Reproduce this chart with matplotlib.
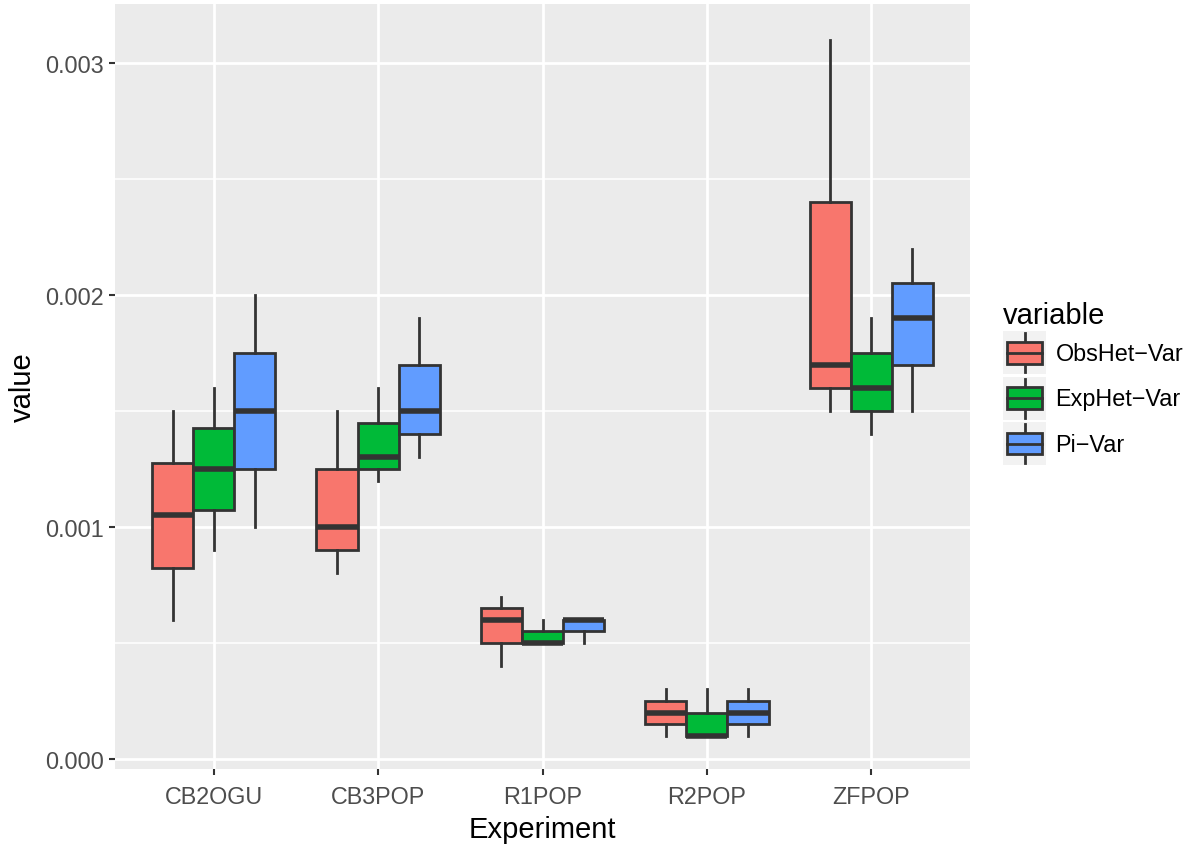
import matplotlib
matplotlib.use('Agg')
import matplotlib.pyplot as plt
from matplotlib.patches import Patch, Rectangle
from matplotlib.lines import Line2D

plt.rcParams['font.family'] = ['Liberation Sans', 'DejaVu Sans']

experiments = ['CB2OGU', 'CB3POP', 'R1POP', 'R2POP', 'ZFPOP']
variables = ['ObsHet\u2212Var', 'ExpHet\u2212Var', 'Pi\u2212Var']
colors = ['#F8766D', '#00BA38', '#619CFF']

# five-number summaries per experiment: (low whisker, q1, median, q3, high whisker)
obs_het = [(0.00060, 0.000825, 0.00105, 0.001275, 0.00150),
           (0.00080, 0.00090, 0.00100, 0.00125, 0.00150),
           (0.00040, 0.00050, 0.00060, 0.00065, 0.00070),
           (0.00010, 0.00015, 0.00020, 0.00025, 0.00030),
           (0.00150, 0.00160, 0.00170, 0.00240, 0.00310)]
exp_het = [(0.00090, 0.001075, 0.00125, 0.001425, 0.00160),
           (0.00120, 0.00125, 0.00130, 0.00145, 0.00160),
           (0.00050, 0.00050, 0.00050, 0.00055, 0.00060),
           (0.00010, 0.00010, 0.00010, 0.00020, 0.00030),
           (0.00140, 0.00150, 0.00160, 0.00175, 0.00190)]
pi_var = [(0.00100, 0.00125, 0.00150, 0.00175, 0.00200),
          (0.00130, 0.00140, 0.00150, 0.00170, 0.00190),
          (0.00050, 0.00055, 0.00060, 0.00060, 0.00060),
          (0.00010, 0.00015, 0.00020, 0.00025, 0.00030),
          (0.00150, 0.00170, 0.00190, 0.00205, 0.00220)]
series = [obs_het, exp_het, pi_var]

yticks = [0.000, 0.001, 0.002, 0.003]
yminor = [0.0005, 0.0015, 0.0025]

LINE = '#333333'
BASE = 21


class BoxKey:
    # legend key drawn like a small ggplot boxplot glyph
    def legend_artist(self, legend, orig_handle, fontsize, handlebox):
        x0, y0 = -handlebox.xdescent, -handlebox.ydescent
        w, h = handlebox.width, handlebox.height
        handlebox.add_artist(Rectangle((x0, y0), w, h, facecolor='#F2F2F2', edgecolor='none'))
        cx = x0 + w / 2
        handlebox.add_artist(Line2D([cx, cx], [y0 + 0.05 * h, y0 + 0.95 * h], color=LINE, lw=2.0))
        box = Rectangle((x0 + 0.1 * w, y0 + 0.25 * h), 0.8 * w, 0.5 * h,
                        facecolor=orig_handle.get_facecolor(), edgecolor=LINE, lw=2.0)
        handlebox.add_artist(box)
        handlebox.add_artist(Line2D([x0 + 0.1 * w, x0 + 0.9 * w], [y0 + h / 2, y0 + h / 2],
                                    color=LINE, lw=2.0))
        return box


fig = plt.figure(figsize=(11.97, 8.45), dpi=100)
ax = fig.add_axes([115 / 1197, 1 - 770 / 845, 855 / 1197, 765 / 845])
ax.set_facecolor('#EBEBEB')
for s in ax.spines.values():
    s.set_visible(False)

for y in yminor:
    ax.axhline(y, color='white', lw=1.1, zorder=0)
for y in yticks:
    ax.axhline(y, color='white', lw=2.0, zorder=0)
for i in range(len(experiments)):
    ax.axvline(i + 1, color='white', lw=2.0, zorder=0)

offsets = [-0.25, 0.0, 0.25]
for k, data in enumerate(series):
    stats = []
    for lo, q1, med, q3, hi in data:
        stats.append({'whislo': lo, 'q1': q1, 'med': med, 'q3': q3, 'whishi': hi, 'fliers': []})
    pos = [i + 1 + offsets[k] for i in range(len(experiments))]
    ax.bxp(stats, positions=pos, widths=0.25, patch_artist=True, showfliers=False,
           showcaps=False, manage_ticks=False,
           boxprops=dict(facecolor=colors[k], edgecolor=LINE, lw=2.0),
           whiskerprops=dict(color=LINE, lw=2.0),
           medianprops=dict(color=LINE, lw=4.0, solid_capstyle='butt'))

ax.set_xlim(0.4, 5.6)
ax.set_ylim(-0.0000431, 0.003254)
ax.set_xticks(range(1, len(experiments) + 1))
ax.set_xticklabels(experiments)
ax.set_yticks(yticks)
ax.set_yticklabels(['%.3f' % v for v in yticks])
ax.tick_params(axis='both', colors=LINE, length=4.5, width=1.5, labelsize=0.8 * BASE,
               labelcolor='#4D4D4D')
ax.tick_params(axis='x', pad=7)
ax.set_xlabel('Experiment', fontsize=BASE, labelpad=5)
ax.set_ylabel('value', fontsize=BASE, labelpad=6)

handles = [Patch(facecolor=c, label=v) for c, v in zip(colors, variables)]
leg = ax.legend(handles=handles, handler_map={Patch: BoxKey()}, title='variable',
                loc='upper left', bbox_to_anchor=(1003 / 1197, 1 - 302 / 845),
                bbox_transform=fig.transFigure, frameon=False, borderpad=0,
                fontsize=0.8 * BASE, title_fontsize=BASE, alignment='left',
                handlelength=1.85, handleheight=2.46, labelspacing=0.1,
                handletextpad=0.4, borderaxespad=0)

fig.savefig('out.png', dpi=100)
